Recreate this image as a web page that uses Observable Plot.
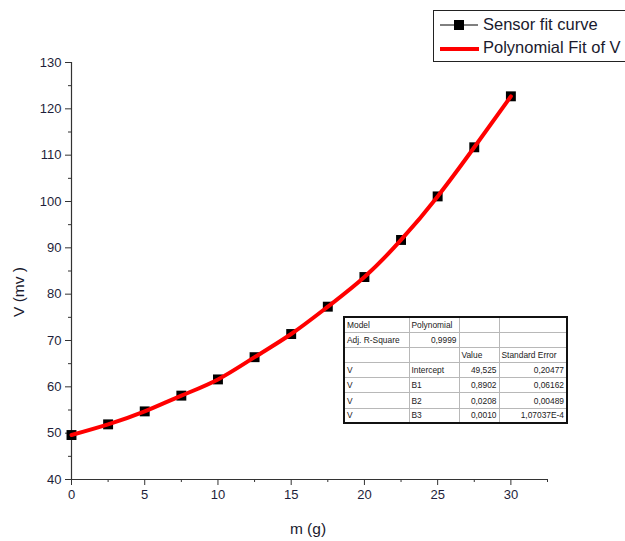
<!DOCTYPE html>
<html><head><meta charset="utf-8">
<script src="https://cdn.jsdelivr.net/npm/d3@7"></script>
<script src="https://cdn.jsdelivr.net/npm/@observablehq/plot@0.6"></script>
<style>
body{margin:0;background:#fff;}
#wrap{position:relative;width:625px;height:541px;overflow:hidden;font-family:"Liberation Sans",Arial,sans-serif;}
#legend{position:absolute;left:433px;top:10px;width:220px;height:52px;border:1.5px solid #222;box-sizing:border-box;background:#fff;}
#legend .row{position:absolute;left:0;height:20px;font-size:16.5px;color:#1a1a2e;white-space:nowrap;}
#legend svg{position:absolute;left:0;top:0;}
#fit{position:absolute;left:343px;top:316px;width:223px;table-layout:fixed;border-collapse:collapse;border:2px solid #111;font-size:8.4px;color:#222;background:#fff;}
#fit td{box-sizing:border-box;border:1px solid #b8b8b8;height:15.2px;padding:0 2px;line-height:10px;white-space:nowrap;overflow:hidden;}
</style></head><body><div id="wrap"></div>
<script>
// data
const mass = [0, 2.5, 5, 7.5, 10, 12.5, 15, 17.5, 20, 22.5, 25, 27.5, 30];
const voltage = [49.6, 51.9, 54.7, 58.1, 61.6, 66.4, 71.4, 77.3, 83.7, 91.7, 101.1, 111.7, 122.7];
const xTicks = [0, 5, 10, 15, 20, 25, 30];
const xMinorTicks = [2.5, 7.5, 12.5, 17.5, 22.5, 27.5, 32.5];
const yTicks = [40, 50, 60, 70, 80, 90, 100, 110, 120, 130];
const yMinorTicks = [45, 55, 65, 75, 85, 95, 105, 115, 125];
const legendLabels = ["Sensor fit curve", "Polynomial Fit of V"];
const xLabel = "m (g)";
const yLabel = "V (mv )";
const tableColumn1 = ["Model", "Adj. R-Square", "", "V", "V", "V", "V"];
const tableColumn2 = ["Polynomial", "0,9999", "", "Intercept", "B1", "B2", "B3"];
const tableColumn3 = ["", "", "Value", "49,525", "0,8902", "0,0208", "0,0010"];
const tableColumn4 = ["", "", "Standard Error", "0,20477", "0,06162", "0,00489", "1,07037E-4"];

const data = mass.map((m, i) => ({m, v: voltage[i]}));
const tickColor = "#1e1e3a";

const chart = Plot.plot({
  width: 625, height: 541,
  marginLeft: 71, marginRight: 78, marginTop: 62, marginBottom: 62,
  style: {fontFamily: '"Liberation Sans", Arial, sans-serif', fontSize: "12.5px", color: tickColor, background: "#fff"},
  x: {domain: [0, 32.5]},
  y: {domain: [40, 130]},
  marks: [
    Plot.ruleY([40], {stroke: "#333", strokeWidth: 1.2}),
    Plot.ruleX([0], {stroke: "#333", strokeWidth: 1.2}),
    Plot.axisX({ticks: xTicks, tickSize: 6, tickPadding: 4, label: null, stroke: "#333", fill: tickColor, fontSize: 13}),
    Plot.axisX({ticks: xMinorTicks, tickSize: 3, label: null, text: null, stroke: "#333"}),
    Plot.axisY({ticks: yTicks, tickSize: 6, tickPadding: 4, label: null, stroke: "#333", fill: tickColor, fontSize: 13}),
    Plot.axisY({ticks: yMinorTicks, tickSize: 3, label: null, text: null, stroke: "#333"}),
    Plot.line(data, {x: "m", y: "v", stroke: "#000", strokeWidth: 1}),
    Plot.dot(data, {x: "m", y: "v", symbol: "square", r: 5.6, fill: "#000", stroke: "none"}),
    Plot.line(data, {x: "m", y: "v", stroke: "#ff0000", strokeWidth: 4, curve: "natural"})
  ]
});
const wrap = document.getElementById("wrap");
wrap.appendChild(chart);

// axis titles
const svg = d3.select(chart);
svg.append("text").attr("x", 308).attr("y", 534).attr("text-anchor", "middle")
  .attr("font-size", 15.5).attr("fill", "#1a1a2e").text(xLabel);
svg.append("text").attr("transform", "translate(24,292) rotate(-90)").attr("text-anchor", "middle")
  .attr("font-size", 15.5).attr("fill", "#1a1a2e").text(yLabel);

// legend
const leg = document.createElement("div");
leg.id = "legend";
leg.innerHTML = `<svg width="60" height="50">
  <line x1="6" y1="14" x2="44" y2="14" stroke="#000" stroke-width="1"/>
  <rect x="20" y="9" width="10" height="10" fill="#000"/>
  <line x1="6" y1="38" x2="45" y2="38" stroke="#ff0000" stroke-width="4"/>
</svg>
<div class="row" style="left:49px;top:4px">${legendLabels[0]}</div>
<div class="row" style="left:49px;top:27px">${legendLabels[1]}</div>`;
wrap.appendChild(leg);

// fit table
const tbl = document.createElement("table");
tbl.id = "fit";
const widths = [65, 50, 40, 68];
const isNum = s => /^[0-9]/.test(s);
tableColumn1.forEach((_, i) => {
  const tr = document.createElement("tr");
  [tableColumn1[i], tableColumn2[i], tableColumn3[i], tableColumn4[i]].forEach((c, j) => {
    const td = document.createElement("td");
    td.textContent = c;
    td.style.width = widths[j] + "px";
    td.style.textAlign = (isNum(c) && j > 0) ? "right" : "left";
    tr.appendChild(td);
  });
  tbl.appendChild(tr);
});
wrap.appendChild(tbl);
</script></body></html>
